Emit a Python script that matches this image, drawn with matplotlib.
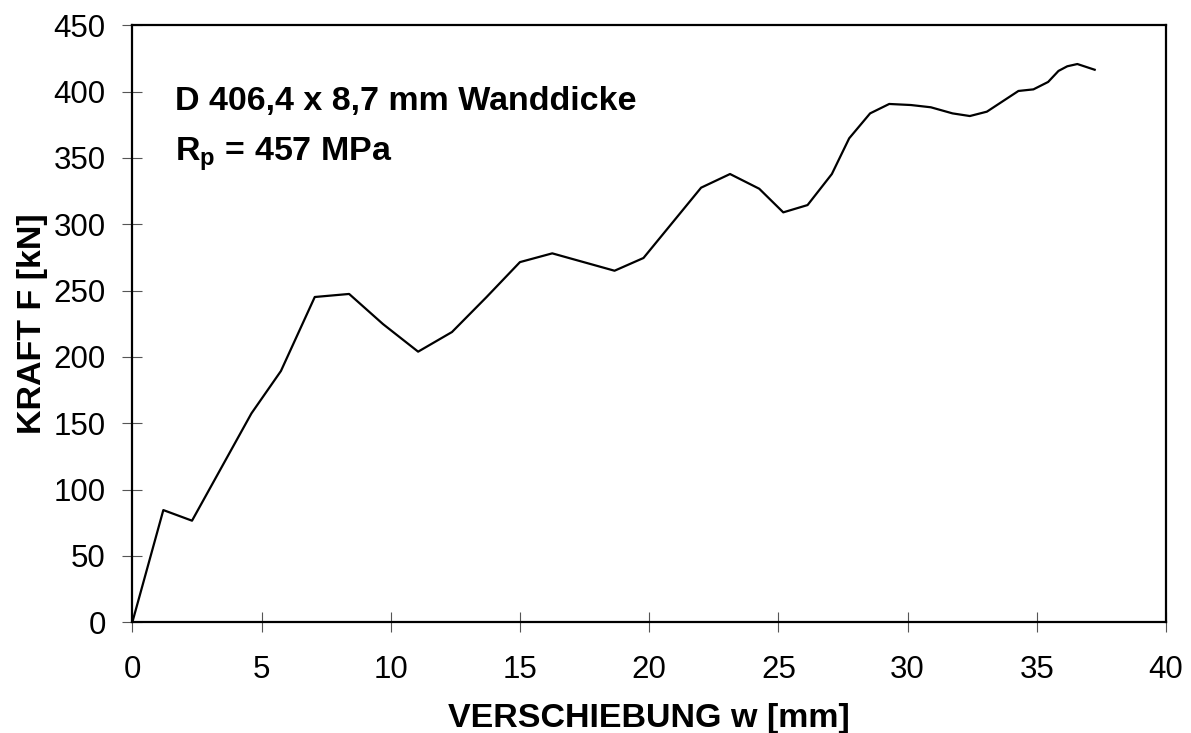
import numpy as np
import matplotlib
matplotlib.use("Agg")
import matplotlib.pyplot as plt

# Kraft-Verschiebungs-Kurve
verschiebung = [0.0, 1.20, 2.31, 4.61, 5.75, 7.06, 8.39, 9.70, 11.06, 12.37, 13.70,
                15.00, 16.25, 18.66, 19.78, 22.01, 23.13, 24.26, 25.19, 26.13,
                27.07, 27.74, 28.55, 29.29, 30.13, 30.90, 31.74, 32.41, 33.07,
                34.29, 34.87, 35.44, 35.84, 36.18, 36.57, 37.24]
kraft = [0.0, 84.6, 76.6, 157.5, 189.4, 245.2, 247.5, 224.8, 204.0, 218.8, 245.0,
         271.5, 278.1, 265.0, 274.6, 327.6, 337.9, 326.8, 309.0, 314.5,
         337.9, 364.8, 383.6, 390.7, 389.9, 388.2, 383.6, 381.6, 384.9,
         400.5, 401.7, 407.3, 415.6, 419.1, 420.8, 416.5]

x_ticks = [0, 5, 10, 15, 20, 25, 30, 35, 40]
y_ticks = [0, 50, 100, 150, 200, 250, 300, 350, 400, 450]

plt.rcParams["font.family"] = ["Liberation Sans", "DejaVu Sans"]
plt.rcParams["mathtext.fontset"] = "custom"
plt.rcParams["mathtext.rm"] = "Liberation Sans"
plt.rcParams["mathtext.bf"] = "Liberation Sans:bold"

fig = plt.figure(figsize=(11.91, 7.33), dpi=100)
ax = fig.add_axes([0.1111, 0.151, 0.979 - 0.1111, 0.9655 - 0.151])

ax.plot(verschiebung, kraft, color="black", linewidth=1.6)

ax.set_xlim(0, 40)
ax.set_ylim(0, 450)
ax.set_xticks(x_ticks)
ax.set_yticks(y_ticks)
ax.tick_params(direction="inout", length=14.4, width=0.8, color="#555555",
               labelsize=22.5)
ax.tick_params(axis="y", pad=12)
ax.tick_params(axis="x", pad=16)

for s in ax.spines.values():
    s.set_linewidth(1.6)

ax.set_xlabel("VERSCHIEBUNG w [mm]", fontsize=24.5, fontweight="bold", labelpad=13)
ax.set_ylabel("KRAFT F [kN]", fontsize=24.5, fontweight="bold", labelpad=4)

ax.text(1.65, 386, "D 406,4 x 8,7 mm Wanddicke", fontsize=24.5, fontweight="bold",
        va="baseline", ha="left")
ax.text(1.65, 348.5, r"R$_\mathbf{p}$ = 457 MPa", fontsize=24.5, fontweight="bold",
        va="baseline", ha="left")

fig.savefig("out.png", dpi=100)
